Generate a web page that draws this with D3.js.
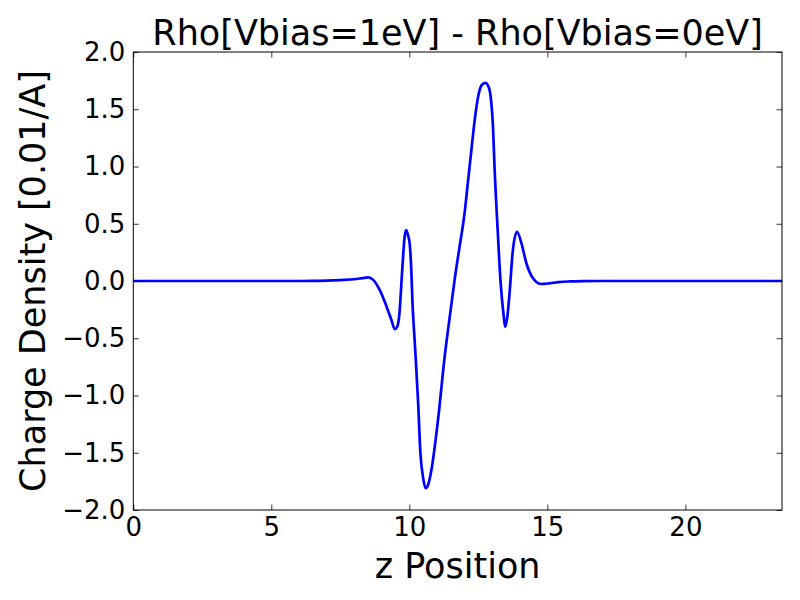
<!DOCTYPE html>
<html>
<head>
<meta charset="utf-8">
<script src="https://cdn.jsdelivr.net/npm/d3@7"></script>
<style>
    body { margin: 0; background: #fff; }
    text { font-family: "DejaVu Sans", sans-serif; }
</style>
</head>
<body>
<div id="chart"></div>
<script>
// z position and charge density difference
let zPos = [0, 1, 2, 3, 4, 5, 6, 6.5, 7, 7.5, 8.0, 8.3, 8.51, 8.69, 8.93, 9.17, 9.35, 9.47, 9.56, 9.63,
    9.75, 9.83, 9.89, 9.95, 10.01, 10.07, 10.11, 10.2, 10.32, 10.4, 10.5, 10.59, 10.68, 10.8, 11.04, 11.28,
    11.46, 11.64, 11.82, 12.0, 12.12, 12.25, 12.37, 12.5, 12.62, 12.75, 12.88, 12.96, 13.03, 13.08, 13.2, 13.3,
    13.42, 13.47, 13.54, 13.63, 13.75, 13.9, 14.06, 14.24, 14.48, 14.78, 15.08, 15.4, 15.8, 16.3, 16.9, 18, 20, 22, 23.5];
let rhoDiff = [0, 0, 0, 0, 0, 0, 0, 0.001, 0.003, 0.008, 0.015, 0.025, 0.032, 0.01, -0.08, -0.22, -0.34, -0.42, -0.40, -0.31,
    0.125, 0.39, 0.445, 0.40, 0.33, 0.096, -0.166, -0.55, -1.07, -1.50, -1.72, -1.81, -1.78, -1.65, -1.21, -0.66,
    -0.32, 0.01, 0.30, 0.59, 0.86, 1.15, 1.41, 1.62, 1.71, 1.73, 1.69, 1.58, 1.35, 1.03, 0.445, 0.01,
    -0.31, -0.40, -0.33, -0.107, 0.27, 0.43, 0.33, 0.155, 0.024, -0.026, -0.02, -0.01, -0.004, -0.001, 0, 0, 0, 0, 0];

let xTicks = [0, 5, 10, 15, 20];
let yTicks = [-2.0, -1.5, -1.0, -0.5, 0.0, 0.5, 1.0, 1.5, 2.0];

let width = 800;
let height = 600;
let margin = ({top: 52, right: 18, bottom: 90, left: 133.3});

let data = zPos.map((z, i) => ({x: z, y: rhoDiff[i]}));

let xScale = d3.scaleLinear()
    .domain([0, 23.5])
    .range([margin.left, width - margin.right]);
let yScale = d3.scaleLinear()
    .domain([-2, 2])
    .range([height - margin.bottom, margin.top]);

let fmt = d => d3.format(".1f")(d).replace("-", "\u2212");

let svg = d3.select("#chart")
    .append("svg")
    .attr("width", width)
    .attr("height", height);

let line = d3.line()
    .curve(d3.curveMonotoneX)
    .x(d => xScale(d.x))
    .y(d => yScale(d.y));

svg.append("path")
    .datum(data)
    .attr("fill", "none")
    .attr("stroke", "#0000ff")
    .attr("stroke-width", 2.7)
    .attr("stroke-linejoin", "round")
    .attr("d", line);

let tick = 5.5;
let styleAxis = g => {
    g.select(".domain").remove();
    g.selectAll(".tick line").attr("stroke", "#000").attr("stroke-width", 0.8);
    g.selectAll(".tick text").attr("font-size", 26).attr("fill", "#000")
        .style("font-family", "DejaVu Sans");
};

svg.append("g")
    .attr("transform", `translate(0,${height - margin.bottom})`)
    .call(d3.axisBottom(xScale).tickValues(xTicks).tickFormat(d3.format("d"))
        .tickSizeInner(-tick).tickSizeOuter(0).tickPadding(8))
    .call(styleAxis);
svg.append("g")
    .attr("transform", `translate(0,${margin.top})`)
    .call(d3.axisTop(xScale).tickValues(xTicks).tickFormat("")
        .tickSizeInner(-tick).tickSizeOuter(0))
    .call(styleAxis);
svg.append("g")
    .attr("transform", `translate(${margin.left},0)`)
    .call(d3.axisLeft(yScale).tickValues(yTicks).tickFormat(fmt)
        .tickSizeInner(-tick).tickSizeOuter(0).tickPadding(8))
    .call(styleAxis);
svg.append("g")
    .attr("transform", `translate(${width - margin.right},0)`)
    .call(d3.axisRight(yScale).tickValues(yTicks).tickFormat("")
        .tickSizeInner(-tick).tickSizeOuter(0))
    .call(styleAxis);

// frame
svg.append("rect")
    .attr("x", margin.left)
    .attr("y", margin.top)
    .attr("width", width - margin.right - margin.left)
    .attr("height", height - margin.bottom - margin.top)
    .attr("fill", "none")
    .attr("stroke", "#000")
    .attr("stroke-width", 1);

svg.append("text")
    .attr("x", (margin.left + width - margin.right) / 2)
    .attr("y", 45)
    .attr("text-anchor", "middle")
    .attr("font-size", 35)
    .text("Rho[Vbias=1eV] - Rho[Vbias=0eV]");

svg.append("text")
    .attr("x", (margin.left + width - margin.right) / 2)
    .attr("y", 578)
    .attr("text-anchor", "middle")
    .attr("font-size", 35)
    .text("z Position");

svg.append("text")
    .attr("transform", `translate(45,${(margin.top + height - margin.bottom) / 2}) rotate(-90)`)
    .attr("text-anchor", "middle")
    .attr("font-size", 35)
    .text("Charge Density [0.01/A]");
</script>
</body>
</html>
